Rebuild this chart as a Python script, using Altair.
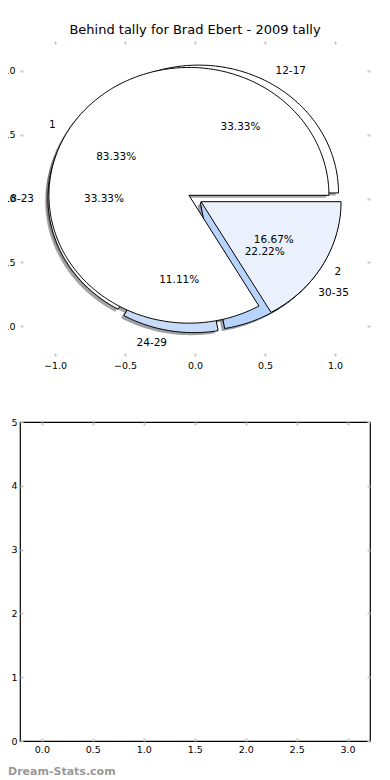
import math
import numpy as np
import pandas as pd
import altair as alt

TITLE = "Behind tally for Brad Ebert - 2009 tally"
WATERMARK = "Dream-Stats.com"

# Pie A (drawn on top)
a_labels = ["1", "2"]
a_counts = [5, 1]
a_colors = ["#ffffff", "#eaf1fd"]
a_explode = [0.05, 0.05]

# Pie B (drawn underneath)
b_labels = ["12-17", "18-23", "24-29", "30-35"]
b_counts = [3, 3, 1, 2]
b_colors = ["#ffffff", "#ffffff", "#c8dbf9", "#b8d4fd"]
b_explode = [0.05, 0.05, 0.05, 0.05]

pie_x_ticks = [-1.0, -0.5, 0.0, 0.5, 1.0]
pie_y_ticks = [-1.0, -0.5, 0.0, 0.5, 1.0]
bot_x_ticks = [0.0, 0.5, 1.0, 1.5, 2.0, 2.5, 3.0]
bot_y_ticks = [0, 1, 2, 3, 4, 5]

FONT = "DejaVu Sans"
TICK_COLOR = "#c8c8c8"


def darken(hexcol, k=0.3):
    r, g, b = (int(hexcol[i:i + 2], 16) for i in (1, 3, 5))
    return "#%02x%02x%02x" % (int(r * k), int(g * k), int(b * k))


def pie_frames(name, labels, counts, colors, explode):
    total = float(sum(counts))
    poly, shad, outer, inner = [], [], [], []
    start = 0.0
    for lab, cnt, col, ex in zip(labels, counts, colors, explode):
        frac = cnt / total
        a1, a2 = start, start + 360.0 * frac
        start = a2
        mid = math.radians((a1 + a2) / 2.0)
        cx, cy = ex * math.cos(mid), ex * math.sin(mid)
        n = max(2, int(abs(a2 - a1)) + 1)
        angs = np.radians(np.linspace(a1, a2, n))
        xs = [cx] + list(cx + np.cos(angs)) + [cx]
        ys = [cy] + list(cy + np.sin(angs)) + [cy]
        key = f"{name}:{lab}"
        for i, (x, y) in enumerate(zip(xs, ys)):
            poly.append(dict(w=key, i=i, x=x, y=y, fill=col))
            shad.append(dict(w=key, i=i, x=x - 0.02, y=y - 0.02, fill=darken(col)))
        lx, ly = cx + 1.1 * math.cos(mid), cy + 1.1 * math.sin(mid)
        outer.append(dict(x=lx, y=ly, text=lab, side="left" if lx > 0 else "right"))
        inner.append(dict(x=cx + 0.6 * math.cos(mid), y=cy + 0.6 * math.sin(mid),
                          text=f"{100 * frac:.2f}%"))
    return (pd.DataFrame(poly), pd.DataFrame(shad),
            pd.DataFrame(outer), pd.DataFrame(inner))


a_poly, a_shad, a_out, a_in = pie_frames("A", a_labels, a_counts, a_colors, a_explode)
b_poly, b_shad, b_out, b_in = pie_frames("B", b_labels, b_counts, b_colors, b_explode)

shad_all = pd.concat([b_shad, a_shad], ignore_index=True)
out_all = pd.concat([b_out, a_out], ignore_index=True)
in_all = pd.concat([b_in, a_in], ignore_index=True)

PX = alt.Scale(domain=[-1.25, 1.25], nice=False, zero=False)
PY = alt.Scale(domain=[-1.232, 1.232], nice=False, zero=False)


def axis(orient, values, fmt, labels=True, pad=5, size=9.5):
    return alt.Axis(orient=orient, values=values, format=fmt, labels=labels,
                    title=None, grid=False, domain=False, ticks=True,
                    tickSize=3, tickWidth=2, tickColor=TICK_COLOR, offset=-3,
                    labelPadding=pad, labelFont=FONT, labelFontSize=size,
                    labelColor="black", labelFlush=False)


def polys(df, **mark):
    return alt.Chart(df).mark_line(filled=True, **mark).encode(
        x=alt.X("x:Q", scale=PX, axis=None),
        y=alt.Y("y:Q", scale=PY, axis=None),
        detail="w:N",
        order="i:Q",
        fill=alt.Fill("fill:N", scale=None),
    )


shadow_layer = polys(shad_all, opacity=0.5, strokeWidth=0)
b_layer = polys(b_poly, stroke="black", strokeWidth=1, strokeJoin="miter")
a_layer = polys(a_poly, stroke="black", strokeWidth=1, strokeJoin="miter")

tick_df = pd.DataFrame({"x": pie_x_ticks, "y": pie_y_ticks})
axes_bl = alt.Chart(tick_df).mark_point(opacity=0).encode(
    x=alt.X("x:Q", scale=PX, axis=axis("bottom", pie_x_ticks, ".1f", pad=4)),
    y=alt.Y("y:Q", scale=PY, axis=axis("left", pie_y_ticks, ".1f", pad=5)),
)
axes_tr = alt.Chart(tick_df).mark_point(opacity=0).encode(
    x=alt.X("x:Q", scale=PX, axis=axis("top", pie_x_ticks, ".1f", labels=False)),
    y=alt.Y("y:Q", scale=PY, axis=axis("right", pie_y_ticks, ".1f", labels=False)),
)


def texts(df, align):
    return alt.Chart(df).mark_text(align=align, baseline="middle", font=FONT,
                                   fontSize=10.5, color="black").encode(
        x=alt.X("x:Q", scale=PX, axis=None),
        y=alt.Y("y:Q", scale=PY, axis=None),
        text="text:N",
    )


lab_left = texts(out_all[out_all.side == "left"], "left")
lab_right = texts(out_all[out_all.side == "right"], "right")
pct = texts(in_all, "center")

top = alt.layer(
    axes_bl, axes_tr, shadow_layer, b_layer, a_layer, lab_left, lab_right, pct
).resolve_axis(x="independent", y="independent").properties(
    width=350, height=315,
    title=alt.TitleParams(TITLE, font=FONT, fontSize=13, fontWeight="normal",
                          color="black", anchor="middle", baseline="alphabetic",
                          offset=-7),
)

BX = alt.Scale(domain=[-0.215, 3.22], nice=False, zero=False)
BY = alt.Scale(domain=[0, 5], nice=False, zero=False)
btick_df = pd.DataFrame({"x": bot_x_ticks[:len(bot_y_ticks)], "y": bot_y_ticks})
b_axes_bl = alt.Chart(btick_df).mark_point(opacity=0).encode(
    x=alt.X("x:Q", scale=BX, axis=axis("bottom", bot_x_ticks, ".1f", pad=3)),
    y=alt.Y("y:Q", scale=BY, axis=axis("left", bot_y_ticks, "d", pad=3)),
)
b_axes_tr = alt.Chart(btick_df).mark_point(opacity=0).encode(
    x=alt.X("x:Q", scale=BX, axis=axis("top", bot_x_ticks, ".1f", labels=False)),
    y=alt.Y("y:Q", scale=BY, axis=axis("right", bot_y_ticks, "d", labels=False)),
)
wm = alt.Chart(pd.DataFrame({"t": [WATERMARK]})).mark_text(
    align="left", baseline="alphabetic", font=FONT, fontSize=11,
    fontWeight="bold", color="#999999",
).encode(x=alt.value(-12), y=alt.value(353), text="t:N")

bottom = alt.layer(b_axes_bl, b_axes_tr, wm).resolve_axis(
    x="independent", y="independent"
).properties(
    width=350, height=319,
    view=alt.ViewBackground(stroke="black", strokeWidth=1.2),
)

chart = alt.vconcat(top, bottom, spacing=66, bounds="flush").properties(
    padding={"left": -17, "top": 16, "right": 0, "bottom": 0},
    autosize=alt.AutoSizeParams(type="pad"),
).configure_view(stroke=None)

chart.save("out.html", embed_options={"renderer": "svg", "actions": False})
